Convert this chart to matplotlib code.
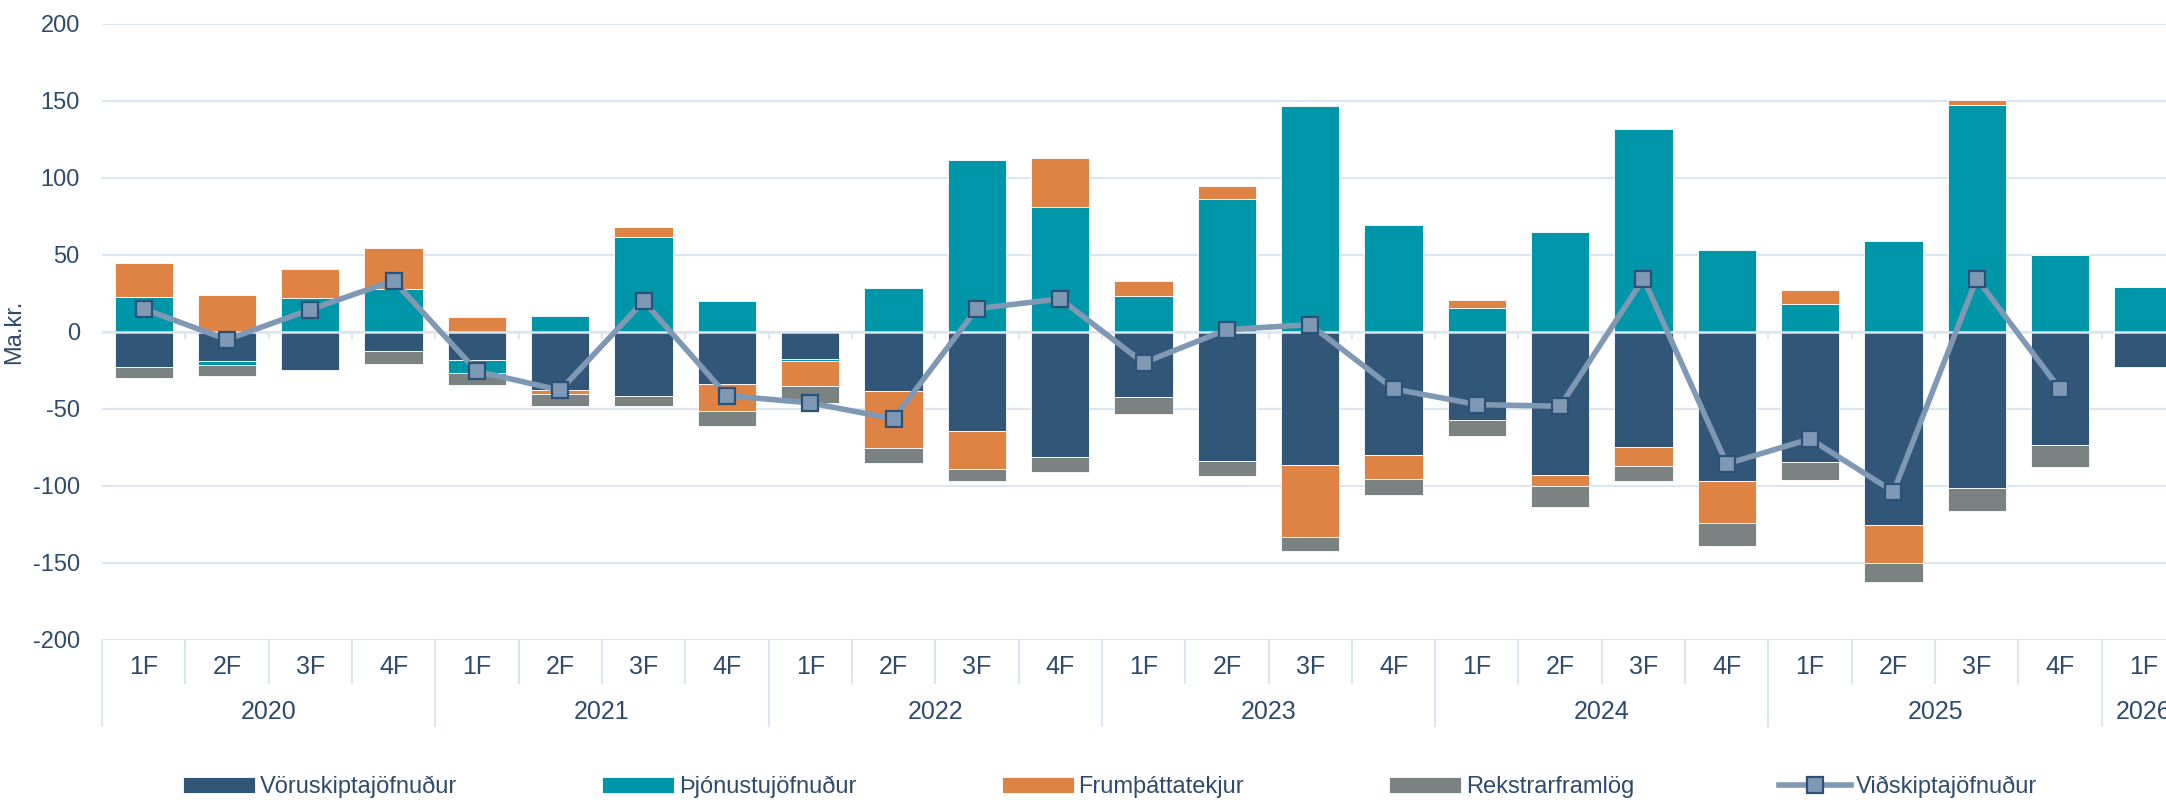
import numpy as np
import matplotlib.pyplot as plt
from matplotlib.transforms import blended_transform_factory

plt.rcParams['font.family'] = ['Liberation Sans Narrow', 'Liberation Sans', 'DejaVu Sans']
plt.rcParams['axes.unicode_minus'] = False

# quarters 2020 1F .. 2026 1F
quarters = ['1F', '2F', '3F', '4F'] * 6 + ['1F']
years = ['2020', '2021', '2022', '2023', '2024', '2025', '2026']

voruskipti = [-22.7, -18.8, -24.7, -12.3, -18.4, -37.7, -41.6, -33.8,
              -17.7, -38.7, -64.3, -81.4, -42.2, -84.0, -86.6, -79.9,
              -57.1, -92.9, -75.0, -97.2, -84.4, -125.3, -101.3, -73.4, -23.2]
thjonusta = [22.3, -2.6, 21.6, 27.5, -8.4, 10.0, 61.3, 20.1,
             -1.1, 28.6, 111.5, 80.7, 22.9, 85.9, 146.3, 69.3,
             15.2, 64.7, 131.6, 53.2, 18.0, 58.9, 147.2, 49.4, 29.2]
frumthatta = [22.3, 23.6, 18.7, 26.6, 9.7, -2.8, 6.9, -17.9,
              -16.7, -36.8, -24.7, 31.9, 10.0, 8.7, -46.7, -15.6,
              5.6, -7.1, -12.1, -27.3, 9.1, -24.9, 3.4, 0.9, 0.0]
rekstrar = [-7.4, -7.4, -1.1, -8.7, -8.2, -7.8, -6.7, -9.8,
            -10.8, -9.8, -7.8, -9.9, -11.3, -9.7, -8.9, -10.8,
            -10.9, -13.6, -10.1, -14.8, -11.9, -12.4, -14.9, -14.7, 0.0]
vidskipti = [14.7, -5.2, 14.3, 33.1, -25.8, -38.1, 19.7, -41.6,
             -46.3, -56.7, 14.9, 21.2, -20.3, 1.3, 4.5, -37.2,
             -47.4, -48.5, 34.4, -85.9, -69.7, -103.9, 34.4, -37.5, np.nan]

series = [
    ('Vöruskiptajöfnuður', voruskipti, '#325678'),
    ('Þjónustujöfnuður', thjonusta, '#0096aa'),
    ('Frumþáttatekjur', frumthatta, '#df8344'),
    ('Rekstrarframlög', rekstrar, '#7a8282'),
]

text_col = '#2f4b6c'
grid_col = '#dce6f0'

fig = plt.figure(figsize=(21.66, 8), dpi=100)
ax = fig.add_axes([0.0471, 0.2005, 0.9617, 0.7701])

x = np.arange(len(quarters))
pos_base = np.zeros(len(x))
neg_base = np.zeros(len(x))
handles = []
for name, vals, col in series:
    v = np.array(vals)
    bottom = np.where(v >= 0, pos_base, neg_base)
    b = ax.bar(x, v, 0.7, bottom=bottom, color=col, edgecolor='white',
               linewidth=0.6, label=name, zorder=2)
    handles.append(b)
    pos_base += np.where(v >= 0, v, 0)
    neg_base += np.where(v < 0, v, 0)

ax.axhline(0, color=grid_col, lw=1.8, zorder=2.5)
for bnd in np.arange(len(x) - 1) + 0.5:
    ax.plot([bnd, bnd], [0, -4], color=grid_col, lw=1.5, zorder=2.5)

line, = ax.plot(x, vidskipti, color='#7f98b4', lw=4, marker='s', markersize=12,
                markerfacecolor='#7f98b4', markeredgecolor='#2c5176',
                markeredgewidth=1.6, label='Viðskiptajöfnuður', zorder=4)
handles.append(line)

ax.set_xlim(-0.5, len(x) - 0.5)
ax.set_ylim(-200, 200)
ax.set_yticks(np.arange(-200, 201, 50))
ax.grid(axis='y', color=grid_col, lw=1.5, zorder=0)
ax.set_axisbelow(True)
for s in ax.spines.values():
    s.set_visible(False)
ax.tick_params(axis='y', length=0, pad=16, labelsize=17, labelcolor=text_col)
ax.set_xticks([])
ax.set_ylabel('Ma.kr.', fontsize=17, color=text_col)
ax.yaxis.set_label_coords(-0.037, 0.5)

# multi-level category axis
tr = blended_transform_factory(ax.transData, ax.transAxes)
for i, q in enumerate(quarters):
    ax.text(i, -0.044, q, transform=tr, ha='center', va='center',
            fontsize=18, color=text_col)
for k, yr in enumerate(years):
    qs = [i for i in range(len(x)) if i // 4 == k]
    ax.text(np.mean(qs), -0.117, yr, transform=tr, ha='center', va='center',
            fontsize=18, color=text_col, clip_on=False)
for bnd in np.arange(len(x) + 1) - 0.5:
    depth = -0.14 if (bnd + 0.5) % 4 == 0 else -0.07
    ax.plot([bnd, bnd], [0, depth], transform=tr, color=grid_col, lw=1.5,
            clip_on=False)

labels = [h.get_label() for h in handles]
fig.legend(handles, labels, loc='center', bbox_to_anchor=(0.5126, 0.016),
           ncol=5, frameon=False, fontsize=17, labelcolor=text_col,
           handlelength=3.05, handleheight=0.7, handletextpad=0.2,
           columnspacing=6.15, borderpad=0, numpoints=1)

fig.savefig('out.png', dpi=100)
